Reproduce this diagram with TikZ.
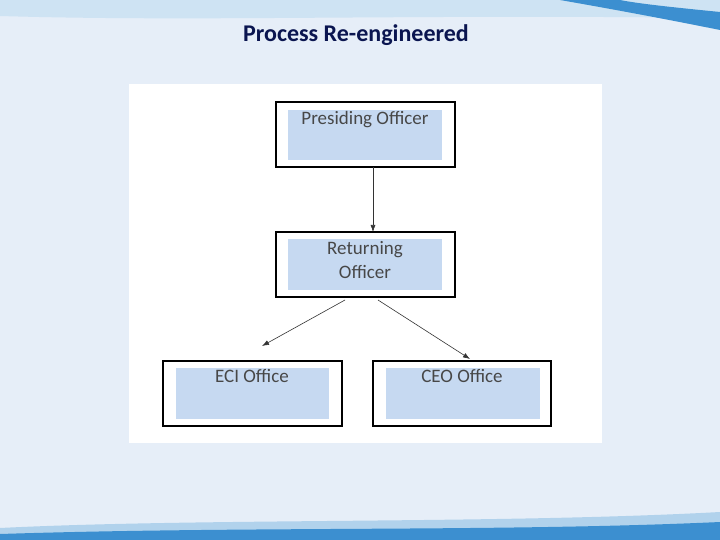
\documentclass[tikz,border=0pt]{standalone}
\usepackage{fontspec}
\setmainfont{Carlito}
\usetikzlibrary{arrows.meta}
\begin{document}
\begin{tikzpicture}[x=1pt,y=-1pt,
  outer/.style={draw=black,line width=1.2pt,fill=white},
  inner/.style={fill=boxblue,draw=none},
  lbl/.style={text=black!72,font=\fontsize{19}{24}\selectfont,align=center,anchor=north,inner sep=2pt},
  arr/.style={draw=black!80,line width=0.6pt,-{Latex[length=7pt,width=5pt]}}]
\definecolor{bg}{HTML}{E6EEF8}
\definecolor{boxblue}{HTML}{C6D9F1}
\definecolor{navy}{HTML}{0A1550}
\definecolor{wave}{HTML}{3C8FD0}
\useasboundingbox (0,0) rectangle (720,540);
\fill[bg] (0,0) rectangle (720,540);
% top banner
\fill[wave!35] (0,0) rectangle (720,16);
\fill[wave!25] (0,16) .. controls (200,22) and (400,14) .. (720,18) -- (720,0) -- (0,0) -- cycle;
\fill[wave] (560,0) .. controls (640,14) and (690,24) .. (720,30) -- (720,12) .. controls (680,8) and (640,4) .. (620,0) -- cycle;
% bottom banner
\fill[wave!40] (0,528) .. controls (200,518) and (500,524) .. (720,512) -- (720,540) -- (0,540) -- cycle;
\fill[wave] (0,534) .. controls (250,526) and (500,532) .. (720,522) -- (720,540) -- (0,540) -- cycle;
% title
\node[text=navy,font=\bfseries\fontsize{24}{28}\selectfont] (title) at (356,35) {Process Re-engineered};
% panel
\fill[white] (129,84) rectangle (602,443);
% boxes
\draw[outer] (276,102) rectangle (455,167);
\fill[inner] (288,110) rectangle (442,160);
\node[lbl] (po) at (365,109) {Presiding Officer};
\draw[outer] (276,232) rectangle (455,297);
\fill[inner] (288,239) rectangle (442,290);
\node[lbl] (ro) at (365,239) {Returning\\Officer};
\draw[outer] (163,361) rectangle (342,426);
\fill[inner] (176,368) rectangle (329,419);
\node[lbl] (eci) at (252,367) {ECI Office};
\draw[outer] (373,361) rectangle (551,426);
\fill[inner] (386,368) rectangle (540,419);
\node[lbl] (ceo) at (462,367) {CEO Office};
\coordinate (a1) at (373,167);
\coordinate (a2) at (373,232);
\coordinate (b0) at (345,300);
\coordinate (b1) at (262,346);
\coordinate (c0) at (378,300);
\coordinate (c1) at (470,359);
\draw[arr] (a1) -- (a2);
\draw[arr] (b0) -- (b1);
\draw[arr] (c0) -- (c1);
\end{tikzpicture}
\end{document}
